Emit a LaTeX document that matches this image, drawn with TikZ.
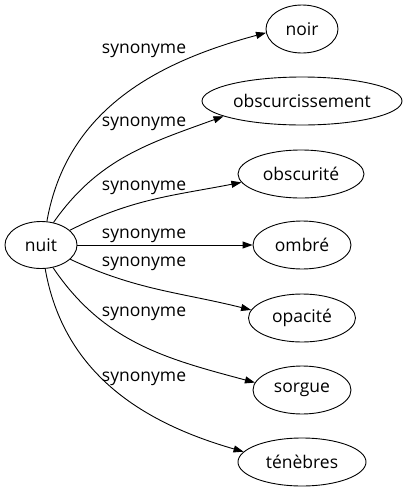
\documentclass[tikz,border=0pt]{standalone}
\usepackage{fontspec}
\setmainfont{Open Sans}
\usetikzlibrary{arrows.meta,shapes.geometric}
\tikzset{
  word/.style={ellipse, draw, line width=0.9pt, inner sep=0pt, minimum height=48pt, font=\fontsize{17.5}{20}\selectfont},
  lbl/.style={inner sep=0pt, font=\fontsize{17.5}{20}\selectfont},
  link/.style={line width=0.9pt, -{Triangle[length=10pt,width=7pt]}}
}
\begin{document}
\begin{tikzpicture}[x=1pt,y=-1pt]
\useasboundingbox (0,0) rectangle (407,491);
\node[word, minimum width=72pt, minimum height=47pt] (nuit) at (41,245) {nuit};
\node[word, minimum width=72pt] (noir) at (302,29) {noir};
\node[word, minimum width=200pt] (obsc) at (302,101) {obscurcissement};
\node[word, minimum width=126pt] (obscu) at (301,174) {obscurité};
\node[word, minimum width=98pt] (ombre) at (302,245) {ombré};
\node[word, minimum width=107pt] (opac) at (302,318) {opacité};
\node[word, minimum width=98pt] (sorg) at (302,390) {sorgue};
\node[word, minimum width=128pt] (ten) at (302,462) {ténèbres};
\node[lbl] (l1) at (144,50.5) {synonyme};
\node[lbl] (l2) at (144,123.5) {synonyme};
\node[lbl] (l3) at (144,187.5) {synonyme};
\node[lbl] (l4) at (144,235.5) {synonyme};
\node[lbl] (l5) at (144,263.5) {synonyme};
\node[lbl] (l6) at (144,313.5) {synonyme};
\node[lbl] (l7) at (144,378.5) {synonyme};
\draw[link] (nuit.76) to[out=80, in=195] (noir.186);
\draw[link] (nuit.61) to[out=55, in=200] (obsc.191);
\draw[link] (nuit.27) to[out=27, in=191] (obscu.188);
\draw[link] (nuit) -- (ombre);
\draw[link] (nuit.-26) to[out=-25, in=166] (opac.171);
\draw[link] (nuit.-62) to[out=-56, in=165] (sorg.171);
\draw[link] (nuit.-80) to[out=-80, in=164] (ten.170);
\end{tikzpicture}
\end{document}
